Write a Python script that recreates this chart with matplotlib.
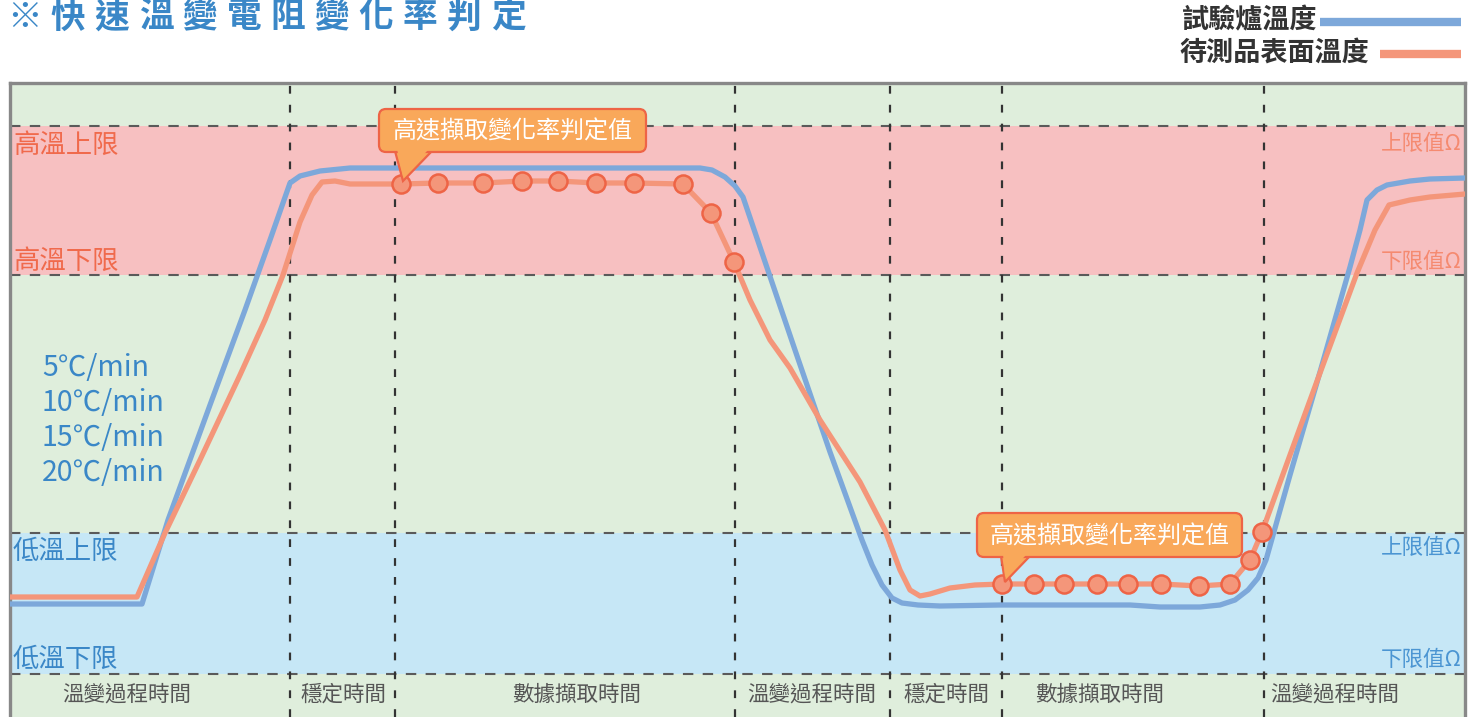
import matplotlib
matplotlib.use("Agg")
import matplotlib.pyplot as plt
from matplotlib.patches import FancyBboxPatch, Polygon
from matplotlib.lines import Line2D

plt.rcParams['font.family'] = ['Noto Sans CJK TC', 'DejaVu Sans']

W, H = 1476, 717

# ---------------- data (time on x, chart-space temperature on y; y grows downward) -------------
oven_x = [10, 142, 168, 210, 245, 270, 290, 300, 320, 350, 400, 500, 600, 700, 712, 725, 735, 743,
          795, 830, 862, 872, 882, 892, 902, 918, 940, 1000, 1100, 1130, 1160, 1200, 1220, 1235,
          1248, 1258, 1266, 1290, 1320, 1350, 1360, 1367, 1377, 1387, 1410, 1430, 1465]
oven_y = [604, 604, 520, 405, 310, 240, 183, 176, 171, 168, 168, 168, 168, 168, 170, 177, 186, 197,
          350, 452, 540, 565, 585, 598, 603, 605, 606, 605, 605, 605, 607, 607, 605, 600,
          590, 578, 560, 475, 372, 267, 230, 200, 190, 185, 181, 179, 178]

sample_x = [10, 137, 165, 200, 240, 265, 283, 300, 312, 322, 335, 350, 401, 438, 483, 522, 558, 596,
            634, 683, 711, 734, 750, 770, 790, 820, 860, 885, 900, 910, 920, 930, 950, 975, 1002,
            1034, 1064, 1097, 1128, 1161, 1199, 1230, 1250, 1262, 1290, 1320, 1357, 1375, 1389,
            1410, 1430, 1465]
sample_y = [597, 597, 533, 460, 375, 320, 275, 222, 195, 182, 181, 184, 184, 183, 183, 181, 181, 183,
            183, 184, 213, 262, 300, 340, 368, 420, 482, 530, 570, 590, 596, 594, 588, 585, 584,
            584, 584, 584, 584, 584, 586, 584, 560, 532, 455, 373, 273, 230, 205,
            200, 197, 194]

marker_x = [401, 438, 483, 522, 558, 596, 634, 683, 711, 734,
            1002, 1034, 1064, 1097, 1128, 1161, 1199, 1230, 1250, 1262]
marker_y = [184, 183, 183, 181, 181, 183, 183, 184, 213, 262,
            584, 584, 584, 584, 584, 584, 586, 584, 560, 532]

limit_lines = [126, 275, 533, 674]
phase_bounds = [290, 395, 735, 890, 1002, 1264]
phase_labels = ['溫變過程時間', '穩定時間', '數據擷取時間', '溫變過程時間', '穩定時間', '數據擷取時間', '溫變過程時間']
phase_label_x = [127, 343, 577, 812, 946, 1100, 1335]
rate_labels = ['5℃/min', '10℃/min', '15℃/min', '20℃/min']
left_labels = ['高溫上限', '高溫下限', '低溫上限', '低溫下限']
right_labels = ['上限值Ω', '下限值Ω', '上限值Ω', '下限值Ω']
legend_labels = ['試驗爐溫度', '待測品表面溫度']
title_text = '※快速溫變電阻變化率判定'
callout_text = '高速擷取變化率判定值'

# ---------------- colours ----------------
GREEN_BG = '#dfeedc'
PINK_BG = '#f7c0c1'
BLUE_BG = '#c6e7f6'
OVEN_C = '#7da8da'
SAMPLE_C = '#f4967a'
MARK_EDGE = '#ee6446'
RED_TXT = '#f06a4c'
RED_TXT2 = '#f58a70'
BLUE_TXT = '#3a87c7'
BLUE_TXT2 = '#4b95d2'
GRAY_TXT = '#555555'

fig = plt.figure(figsize=(W / 100, H / 100), dpi=100)
fig.patch.set_facecolor('white')

x0, x1, y0, y1 = 10, 1465, 83, 717
ax = fig.add_axes([x0 / W, 0, (x1 - x0) / W, (y1 - y0) / H])
ax.set_xlim(x0, x1)
ax.set_ylim(y1, y0)
ax.set_facecolor(GREEN_BG)
ax.set_xticks([])
ax.set_yticks([])
for s in ['left', 'top', 'right']:
    ax.spines[s].set_color('#888888')
    ax.spines[s].set_linewidth(2.4)
ax.spines['bottom'].set_visible(False)

# bands
ax.axhspan(limit_lines[0], limit_lines[1], color=PINK_BG, lw=0, zorder=0)
ax.axhspan(limit_lines[2], limit_lines[3], color=BLUE_BG, lw=0, zorder=0)

# dashed limit lines
for y in limit_lines:
    ax.axhline(y, color='#5a5a5a', lw=1.5, dashes=(5, 4.5), zorder=1)
# dotted phase boundaries
for x in phase_bounds:
    ax.axvline(x, color='#333333', lw=1.6, dashes=(3.5, 5), zorder=1)

# curves
ax.plot(oven_x, oven_y, color=OVEN_C, lw=3.8, solid_joinstyle='round', zorder=3)
ax.plot(sample_x, sample_y, color=SAMPLE_C, lw=3.8, solid_joinstyle='round', zorder=4)
ax.plot(marker_x, marker_y, ls='none', marker='o', ms=13, mfc=SAMPLE_C, mec=MARK_EDGE,
        mew=1.8, zorder=5)

# callouts
def callout(bx0, by0, bx1, by1, tri):
    poly = Polygon(tri, closed=True, facecolor='#f9a85a', edgecolor=MARK_EDGE, lw=1.6, zorder=6)
    ax.add_patch(poly)
    box = FancyBboxPatch((bx0, by0), bx1 - bx0, by1 - by0,
                         boxstyle='round,pad=0,rounding_size=7', facecolor='#f9a85a',
                         edgecolor=MARK_EDGE, lw=1.6, zorder=7, mutation_aspect=1)
    ax.add_patch(box)
    inner = [(tri[0][0] + 2, tri[0][1] - 2), (tri[1][0] - 3, tri[1][1] - 2),
             (tri[2][0], tri[2][1] - 5)]
    ax.add_patch(Polygon(inner, closed=True, facecolor='#f9a85a', edgecolor='none', zorder=8))
    ax.text((bx0 + bx1) / 2, (by0 + by1) / 2 + 1, callout_text, color='white', fontsize=17.3,
            ha='center', va='center', zorder=9)

callout(379, 109, 646, 152, [(395, 151), (432, 151), (403, 181)])
callout(977, 513, 1242, 557, [(1001, 556), (1030, 556), (1005, 582)])

# left labels
left_y = [145, 261, 551, 659]
left_c = [RED_TXT, RED_TXT, BLUE_TXT, BLUE_TXT]
for t, y, c in zip(left_labels, left_y, left_c):
    ax.text(13, y, t, color=c, fontsize=19, ha='left', va='center', zorder=6)

# right labels
right_y = [144, 262, 548, 660]
right_c = [RED_TXT2, RED_TXT2, BLUE_TXT2, BLUE_TXT2]
for t, y, c in zip(right_labels, right_y, right_c):
    ax.text(1462, y, t, color=c, fontsize=15.5, ha='right', va='center', zorder=6)

# rate labels
for i, t in enumerate(rate_labels):
    ax.text(42, 368 + 35 * i, t, color=BLUE_TXT, fontsize=20.5, ha='left', va='center', zorder=6)

# phase labels
for t, x in zip(phase_labels, phase_label_x):
    ax.text(x, 695, t, color=GRAY_TXT, fontsize=15.5, ha='center', va='center', zorder=6)

# title (wide letter spacing)
for i, ch in enumerate(title_text):
    fig.text((24 + 44 * i) / W, 1 - 17 / H, ch, color=BLUE_TXT, fontsize=25,
             fontweight='bold', ha='center', va='center')

# legend
fig.text(1318 / W, 1 - 20 / H, legend_labels[0], color='#333333', fontsize=19.5,
         fontweight='bold', ha='right', va='center')
fig.text(1369 / W, 1 - 53 / H, legend_labels[1], color='#333333', fontsize=19.5,
         fontweight='bold', ha='right', va='center')
fig.add_artist(Line2D([1320 / W, 1461 / W], [1 - 22 / H, 1 - 22 / H], color=OVEN_C, lw=6,
                      solid_capstyle='butt'))
fig.add_artist(Line2D([1380 / W, 1461 / W], [1 - 54 / H, 1 - 54 / H], color=SAMPLE_C, lw=6,
                      solid_capstyle='butt'))

fig.savefig('out.png', dpi=100)
